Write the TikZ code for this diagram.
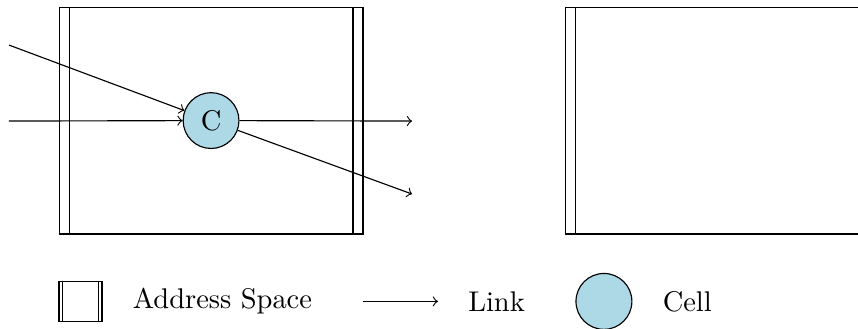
\documentclass[tikz,border=0pt]{standalone}
\usepackage{xcolor}
\usetikzlibrary{positioning}
\definecolor{cellblue}{HTML}{ADD8E6}

\begin{document}
\begin{tikzpicture}[
  node distance=0.25cm,
  space/.style={rectangle, draw, minimum width=3.75cm, minimum height=2.8cm},
  smallspace/.style={rectangle, draw, minimum width=0.53cm, minimum height=0.5cm},
  cell/.style={circle, draw, fill=cellblue},
  link/.style={->}
]
  \useasboundingbox (0,0) rectangle (10.59,-4.06);

  % address spaces
  \node[space] (as1) at (2.605,-1.488) {};
  \node[space] (as2) at (8.852,-1.488) {};
  \draw ([xshift=0.13cm]as1.north west) -- ([xshift=0.13cm]as1.south west);
  \draw ([xshift=-0.13cm]as1.north east) -- ([xshift=-0.13cm]as1.south east);
  \draw ([xshift=0.13cm]as2.north west) -- ([xshift=0.13cm]as2.south west);
  \draw ([xshift=-0.13cm]as2.north east) -- ([xshift=-0.13cm]as2.south east);

  % cell and links
  \node[cell] (c) at (as1.center) {C};
  \coordinate (in1) at (0.111,-0.556);
  \coordinate (in2) at (0.111,-1.494);
  \coordinate (out1) at (5.086,-1.494);
  \coordinate (out2) at (5.086,-2.395);
  \draw[link] (in1) -- (c);
  \draw[link] (in2) -- (c);
  \draw[link] (c) -- (out1);
  \draw[link] (c) -- (out2);

  % legend
  \node[smallspace] (legspace) at (0.994,-3.72) {};
  \draw ([xshift=0.05cm]legspace.north west) -- ([xshift=0.05cm]legspace.south west);
  \draw ([xshift=-0.05cm]legspace.north east) -- ([xshift=-0.05cm]legspace.south east);
  \node[right=of legspace] (legspacetext) {Address Space};
  \coordinate[right=0.5cm of legspacetext] (linkstart);
  \coordinate[right=0.93cm of linkstart] (linkend);
  \draw[link] (linkstart) -- (linkend);
  \node[right=of linkend] (legspacelink) {Link};
  \node[cell, minimum size=0.69cm, right=0.5cm of legspacelink] (legcell) {};
  \node[right=of legcell] (legcelltext) {Cell};
\end{tikzpicture}
\end{document}
